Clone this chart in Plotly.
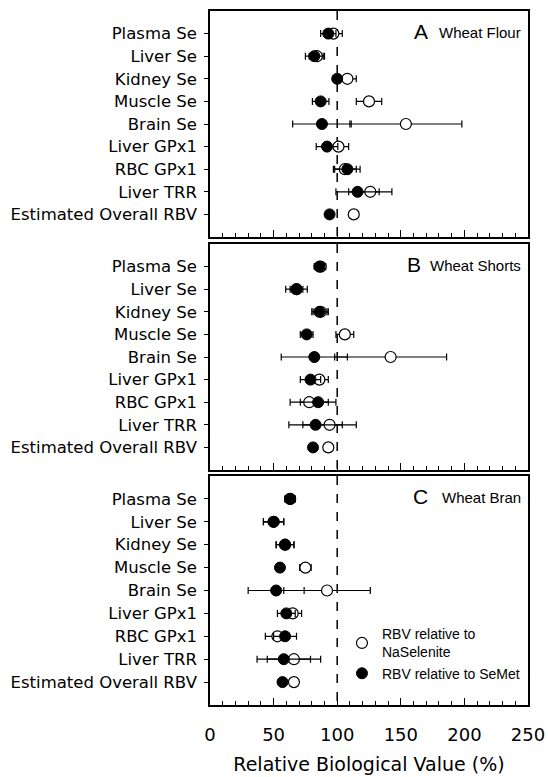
import plotly.graph_objects as go

categories = ["Plasma Se", "Liver Se", "Kidney Se", "Muscle Se", "Brain Se",
              "Liver GPx1", "RBC GPx1", "Liver TRR", "Estimated Overall RBV"]

panel_letters = ["A", "B", "C"]
panel_names = ["Wheat Flour", "Wheat Shorts", "Wheat Bran"]

# RBV relative to SeMet (filled)
A_semet = [93, 82, 100, 87, 88, 92, 108, 116, 94]
A_semet_err = [6, 7, 3, 6.5, 23, 8.5, 10, 17, 0]
B_semet = [86, 68, 86, 76, 82, 79, 85, 83, 81]
B_semet_err = [4, 8.5, 6, 5, 26, 8, 14, 21, 0]
C_semet = [63, 50, 59, 55, 52, 60, 59, 58, 57]
C_semet_err = [4, 8, 7, 3, 22, 7, 9, 21, 0]

# RBV relative to NaSelenite (open)
A_nasel = [97, 84, 108, 125, 154, 101, 106, 126, 113]
A_nasel_err = [7, 6, 7, 10, 44, 8, 9, 17, 0]
B_nasel = [87, 68, 87, 106, 142, 86, 78, 94, 93]
B_nasel_err = [4, 5, 6, 7, 44, 7, 15, 21, 0]
C_nasel = [63, 50, 59, 75, 92, 65, 53, 66, 66]
C_nasel_err = [4, 8, 7, 4.5, 34, 7, 9.5, 21, 0]

x_ticks = [0, 50, 100, 150, 200, 250]
ref_value = 100

semet_sets = [(A_semet, A_semet_err), (B_semet, B_semet_err), (C_semet, C_semet_err)]
nasel_sets = [(A_nasel, A_nasel_err), (B_nasel, B_nasel_err), (C_nasel, C_nasel_err)]

pos = list(range(1, len(categories) + 1))

W, H = 548, 777
ml, mr, mt, mb = 210, 20, 11, 72
ph = H - mt - mb
panels_px = [(11, 237), (244, 470), (476, 705)]
domains = [[(705 - b) / ph, (705 - t) / ph] for (t, b) in panels_px]
letter_x = [0.692, 0.670, 0.692]

fig = go.Figure()

for i in range(3):
    xa = "x" if i == 0 else f"x{i+1}"
    ya = "y" if i == 0 else f"y{i+1}"
    fig.add_trace(go.Scatter(x=[ref_value, ref_value], y=[0, 10], mode="lines",
                             line=dict(color="black", width=1.5, dash="dash"),
                             showlegend=False, hoverinfo="skip", xaxis=xa, yaxis=ya))
    nv, ne = nasel_sets[i]
    sv, se = semet_sets[i]
    fig.add_trace(go.Scatter(
        x=nv, y=pos, mode="markers", xaxis=xa, yaxis=ya,
        name="RBV relative to<br>NaSelenite", showlegend=(i == 2), legendrank=1,
        marker=dict(symbol="circle", size=11, color="white",
                    line=dict(color="black", width=1.2)),
        error_x=dict(type="data", array=ne, visible=True, color="black",
                     thickness=1.2, width=3.5)))
    fig.add_trace(go.Scatter(
        x=sv, y=pos, mode="markers", xaxis=xa, yaxis=ya,
        name="RBV relative to SeMet", showlegend=(i == 2), legendrank=2,
        marker=dict(symbol="circle", size=11, color="black",
                    line=dict(color="black", width=1)),
        error_x=dict(type="data", array=se, visible=True, color="black",
                     thickness=1.2, width=3.5)))

layout = dict(
    width=W, height=H,
    margin=dict(l=ml, r=mr, t=mt, b=mb, autoexpand=False),
    plot_bgcolor="white", paper_bgcolor="white",
    font=dict(family="DejaVu Sans", color="black"),
    legend=dict(x=0.415, y=0.125, xanchor="left", yanchor="top",
                font=dict(family="Liberation Sans, Arial", size=14, color="black"),
                bgcolor="rgba(0,0,0,0)", tracegroupgap=2, itemwidth=30),
    annotations=[],
)

for i in range(3):
    xk = "xaxis" if i == 0 else f"xaxis{i+1}"
    yk = "yaxis" if i == 0 else f"yaxis{i+1}"
    ya = "y" if i == 0 else f"y{i+1}"
    xa = "x" if i == 0 else f"x{i+1}"
    layout[xk] = dict(
        domain=[0, 1], anchor=ya, range=[0, 250],
        tickvals=x_ticks, ticks="inside", ticklen=7, tickwidth=1, tickcolor="black",
        minor=dict(dtick=10, tick0=0, ticks="inside", ticklen=4, tickcolor="black", tickwidth=1),
        showline=True, linecolor="black", linewidth=1.5, mirror=True,
        showgrid=False, zeroline=False,
        showticklabels=(i == 2), ticklabelstandoff=13,
        tickfont=dict(family="DejaVu Sans", size=18, color="black"),
    )
    if i == 2:
        layout[xk]["title"] = dict(text="Relative Biological Value (%)",
                                   font=dict(family="DejaVu Sans", size=19, color="black"),
                                   standoff=13)
    else:
        layout[xk]["matches"] = "x3"
    layout[yk] = dict(
        domain=domains[i], anchor=xa, range=[10, 0],
        tickvals=pos, ticktext=categories, ticks="outside", ticklen=4,
        tickcolor="black", tickwidth=1, ticklabelstandoff=4,
        showline=True, linecolor="black", linewidth=1.5, mirror=True,
        showgrid=False, zeroline=False,
        tickfont=dict(family="DejaVu Sans", size=16.5, color="black"),
    )
    tk = f"xaxis{i+4}"
    layout[tk] = dict(
        overlaying=xa, anchor=ya, side="top", range=[0, 250],
        tickvals=x_ticks[1:-1], ticks="inside", ticklen=7, tickcolor="black",
        showticklabels=False, showline=False, showgrid=False, zeroline=False,
    )
    xr = f"{xa} domain"
    yr = f"{ya} domain"
    layout["annotations"].append(dict(
        text=panel_names[i], xref=xr, yref=yr, x=0.985, y=0.905,
        xanchor="right", yanchor="middle", showarrow=False,
        font=dict(family="Liberation Sans, Arial", size=15, color="black")))
    layout["annotations"].append(dict(
        text=panel_letters[i], xref=xr, yref=yr, x=letter_x[i], y=0.91,
        xanchor="right", yanchor="middle", showarrow=False,
        font=dict(family="Liberation Sans, Arial", size=21, color="black")))

fig.update_layout(**layout)
fig.write_html("out.html")
